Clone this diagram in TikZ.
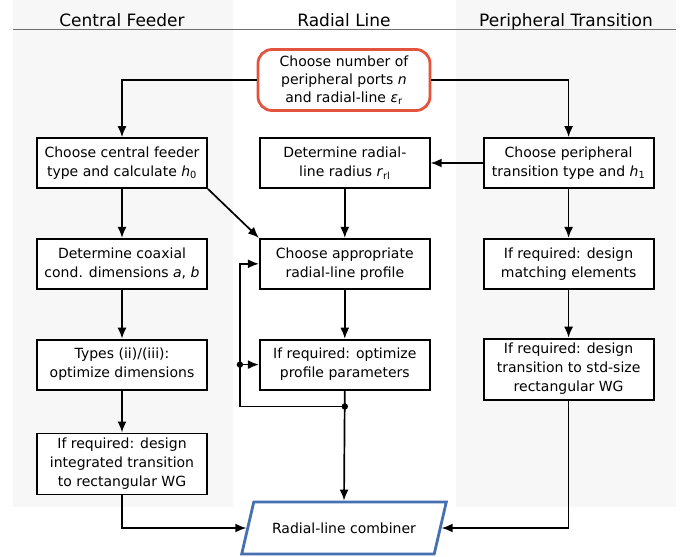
\documentclass[tikz,border=0pt]{standalone}
\usepackage{fontspec}
\setmainfont{DejaVu Sans}
\usetikzlibrary{positioning, arrows.meta, shapes.geometric}
\definecolor{startred}{RGB}{228,83,62}
\definecolor{combblue}{RGB}{70,112,176}
\definecolor{panelgray}{RGB}{247,247,247}
\definecolor{rulegray}{RGB}{110,110,110}
\tikzstyle{box}=[draw, line width=1.8pt, align=center, fill=white, inner sep=2pt,
                 font=\fontsize{14}{19}\selectfont, minimum height=50pt, minimum width=170pt]
\tikzstyle{startbox}=[box, draw=startred, line width=2.8pt, rounded corners=14pt,
                 minimum width=172pt, minimum height=61pt, font=\fontsize{14}{18}\selectfont]
\tikzstyle{combiner}=[trapezium, trapezium left angle=60, trapezium right angle=120,
                 trapezium stretches=true, draw=combblue, line width=2.8pt, fill=white,
                 minimum width=205pt, minimum height=52pt, font=\fontsize{14}{19}\selectfont]
\tikzstyle{coltitle}=[anchor=base, font=\fontsize{17}{20}\selectfont]
\tikzstyle{ar}=[-{Latex[length=11pt, width=9pt]}, line width=1.7pt]

\begin{document}
\begin{tikzpicture}[x=1pt, y=-1pt]
    \useasboundingbox (0,0) rectangle (686,557);
    % column panels and header rule
    \fill[panelgray] (13,0) rectangle (233,507);
    \fill[panelgray] (456,0) rectangle (676,507);
    \draw[rulegray, line width=1.3pt] (13,29.5) -- (676,29.5);
    \node[coltitle] (ttlcf) at (122,26) {Central Feeder};
    \node[coltitle] (ttlrl) at (344,26) {Radial Line};
    \node[coltitle] (ttlpt) at (566,26) {Peripheral Transition};

    \node[startbox] (start) at (344,80) {Choose number of\\peripheral ports \textit{n}\\and radial-line \textit{ε}\textsubscript{r}};

    \node[box] (cf1) at (122,163) {Choose central feeder\\type and calculate \textit{h}\textsubscript{0}};
    \node[box, right=51pt of cf1] (rl1) {Determine radial-\\line radius \textit{r}\textsubscript{rl}};
    \node[box, right=52pt of rl1] (pt1) {Choose peripheral\\transition type and \textit{h}\textsubscript{1}};

    \node[box, below=49pt of cf1] (cf2) {Determine coaxial\\cond. dimensions \textit{a}, \textit{b}};
    \node[box, below=49pt of cf2] (cf3) {Types (ii)/(iii):\\optimize dimensions};
    \node[box, below=42pt of cf3, minimum height=61pt] (cf4) {If required: design\\integrated transition\\to rectangular WG};
    \node[box, below=49pt of rl1] (rl2) {Choose appropriate\\radial-line profile};
    \node[box, below=49pt of rl2] (rl3) {If required: optimize\\profile parameters};
    \node[box, below=49pt of pt1] (pt2) {If required: design\\matching elements};
    \node[box, below=48pt of pt2, minimum height=61pt] (pt3) {If required: design\\transition to std-size\\rectangular WG};

    \node[combiner] (comb) at (344,528) {Radial-line combiner};

    \coordinate[below=16pt of rl3.south] (jn);
    \coordinate[left=19pt of rl3.west] (lp);

    \draw[ar] (start.west) -| (cf1.north);
    \draw[ar] (start.east) -| (pt1.north);
    \draw[ar] (pt1) -- (rl1);
    \draw[ar] (cf1.south east) -- (rl2.north west);
    \draw[ar] (rl1) -- (rl2); \draw[ar] (rl2) -- (rl3);
    \draw[ar] (cf1) -- (cf2); \draw[ar] (cf2) -- (cf3); \draw[ar] (cf3) -- (cf4);
    \draw[ar] (pt1) -- (pt2); \draw[ar] (pt2) -- (pt3);
    \draw[ar] (rl3.south) -- (comb.north);
    \draw[ar] (jn) -| (lp) |- (rl2.west);
    \draw[ar] (lp) -- (rl3.west);
    \fill (jn) circle (3.2pt); \fill (lp) circle (3.2pt);
    \draw[ar] (cf4.south) |- (comb.west);
    \draw[ar] (pt3.south) |- (comb.east);
\end{tikzpicture}
\end{document}
